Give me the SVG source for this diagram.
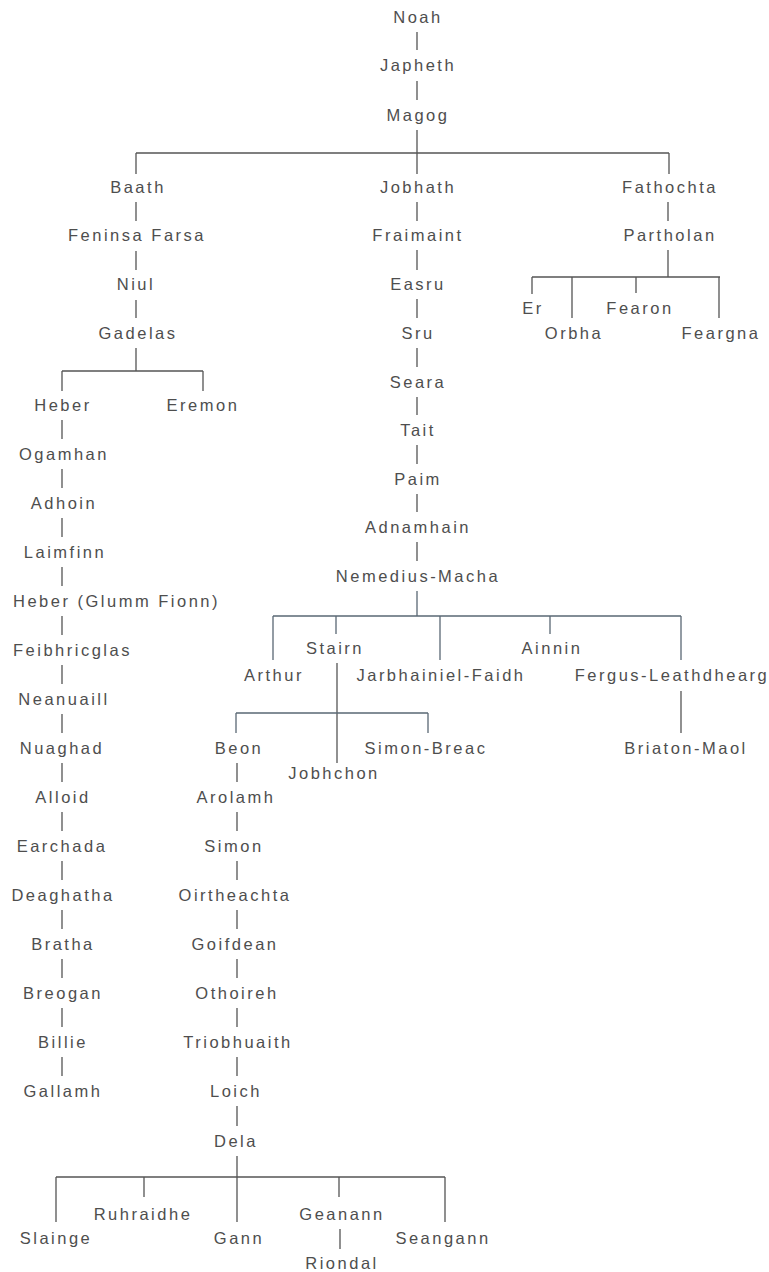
<svg xmlns="http://www.w3.org/2000/svg" width="769" height="1272" viewBox="0 0 769 1272">
<style>
.t{font-family:"Liberation Sans",Arial,sans-serif;font-size:16.5px;letter-spacing:2.5px;fill:#4e4e4e;text-anchor:middle;dominant-baseline:central}
.s{text-anchor:start}
.c path{fill:none;stroke:#555;stroke-width:1.3}
.c path.b{stroke:#5a6874}
</style>
<rect width="769" height="1272" fill="#fff"/>
<g class="c" id="connectors">
<path d="M417 32V50M417 81V100M417 130V153M136 153H669M136 153V174M417 153V174M669 153V174"/>
<path d="M136 202V221M136 251V270M136 300V318M136 348V371M62 371H203M62 371V391M203 371V391"/>
<path d="M62 420V439M62 469V488M62 518V537M62 567V586M62 616V635M62 665V684M62 714V733M62 763V782M62 812V831M62 861V880M62 910V929M62 959V978M62 1008V1027M62 1057V1076"/>
<path d="M417 202V221M417 250V270M417 299V318M417 348V367M417 397V415M417 445V464M417 494V512M417 542V561"/>
<path class="b" d="M417 591V616M273 616H681M273 616V660M336 616V634M440 616V660M550 616V634M681 616V660"/>
<path d="M337 663V763"/>
<path class="b" d="M236 713H428M236 713V733M428 713V733"/>
<path d="M681 691V733"/>
<path d="M668 202V221M668 250V277M532 277H720M532 277V294M572 277V318M636 277V293M719 277V318"/>
<path d="M237 763V782M237 812V831M237 861V880M237 910V929M237 959V978M237 1008V1027M237 1057V1076M237 1106V1126"/>
<path d="M237 1156V1177M56 1177H445M56 1177V1222M144 1177V1197M237 1177V1222M339 1177V1197M445 1177V1222M340 1229V1249"/>
</g>
<g id="noah"><text class="t" x="418" y="17">Noah</text></g>
<g id="japheth"><text class="t" x="418" y="65">Japheth</text></g>
<g id="magog"><text class="t" x="418" y="115">Magog</text></g>
<g id="baath"><text class="t" x="138" y="187">Baath</text></g>
<g id="jobhath"><text class="t" x="418" y="187">Jobhath</text></g>
<g id="fathochta"><text class="t" x="670" y="187">Fathochta</text></g>
<g id="feninsa"><text class="t" x="137" y="235">Feninsa Farsa</text></g>
<g id="niul"><text class="t" x="136" y="284">Niul</text></g>
<g id="gadelas"><text class="t" x="138" y="333">Gadelas</text></g>
<g id="heber"><text class="t" x="63" y="405">Heber</text></g>
<g id="eremon"><text class="t" x="203" y="405">Eremon</text></g>
<g id="ogamhan"><text class="t" x="64" y="454">Ogamhan</text></g>
<g id="adhoin"><text class="t" x="64" y="503">Adhoin</text></g>
<g id="laimfinn"><text class="t" x="65" y="552">Laimfinn</text></g>
<g id="heber2"><text class="t s" x="13" y="601">Heber (Glumm Fionn)</text></g>
<g id="feibhricglas"><text class="t s" x="13" y="650">Feibhricglas</text></g>
<g id="neanuaill"><text class="t" x="64" y="699">Neanuaill</text></g>
<g id="nuaghad"><text class="t" x="62" y="748">Nuaghad</text></g>
<g id="alloid"><text class="t" x="63" y="797">Alloid</text></g>
<g id="earchada"><text class="t" x="62" y="846">Earchada</text></g>
<g id="deaghatha"><text class="t" x="63" y="895">Deaghatha</text></g>
<g id="bratha"><text class="t" x="63" y="944">Bratha</text></g>
<g id="breogan"><text class="t" x="63" y="993">Breogan</text></g>
<g id="billie"><text class="t" x="63" y="1042">Billie</text></g>
<g id="gallamh"><text class="t" x="63" y="1091">Gallamh</text></g>
<g id="fraimaint"><text class="t" x="418" y="235">Fraimaint</text></g>
<g id="easru"><text class="t" x="418" y="284">Easru</text></g>
<g id="sru"><text class="t" x="418" y="333">Sru</text></g>
<g id="seara"><text class="t" x="418" y="382">Seara</text></g>
<g id="tait"><text class="t" x="418" y="430">Tait</text></g>
<g id="paim"><text class="t" x="418" y="479">Paim</text></g>
<g id="adnamhain"><text class="t" x="418" y="527">Adnamhain</text></g>
<g id="nemedius"><text class="t" x="418" y="576">Nemedius-Macha</text></g>
<g id="partholan"><text class="t" x="670" y="235">Partholan</text></g>
<g id="er"><text class="t" x="533" y="308">Er</text></g>
<g id="orbha"><text class="t" x="574" y="333">Orbha</text></g>
<g id="fearon"><text class="t" x="640" y="308">Fearon</text></g>
<g id="feargna"><text class="t" x="721" y="333">Feargna</text></g>
<g id="arthur"><text class="t" x="274" y="675">Arthur</text></g>
<g id="stairn"><text class="t" x="335" y="648">Stairn</text></g>
<g id="jarbhainiel"><text class="t" x="441" y="675">Jarbhainiel-Faidh</text></g>
<g id="ainnin"><text class="t" x="552" y="648">Ainnin</text></g>
<g id="fergus"><text class="t" x="672" y="675">Fergus-Leathdhearg</text></g>
<g id="beon"><text class="t" x="239" y="748">Beon</text></g>
<g id="jobhchon"><text class="t" x="334" y="773">Jobhchon</text></g>
<g id="simonbreac"><text class="t" x="426" y="748">Simon-Breac</text></g>
<g id="briaton"><text class="t" x="686" y="748">Briaton-Maol</text></g>
<g id="arolamh"><text class="t" x="236" y="797">Arolamh</text></g>
<g id="simon"><text class="t" x="234" y="846">Simon</text></g>
<g id="oirtheachta"><text class="t" x="235" y="895">Oirtheachta</text></g>
<g id="goifdean"><text class="t" x="235" y="944">Goifdean</text></g>
<g id="othoireh"><text class="t" x="237" y="993">Othoireh</text></g>
<g id="triobhuaith"><text class="t" x="238" y="1042">Triobhuaith</text></g>
<g id="loich"><text class="t" x="236" y="1091">Loich</text></g>
<g id="dela"><text class="t" x="236" y="1141">Dela</text></g>
<g id="slainge"><text class="t" x="56" y="1238">Slainge</text></g>
<g id="ruhraidhe"><text class="t" x="143" y="1214">Ruhraidhe</text></g>
<g id="gann"><text class="t" x="239" y="1238">Gann</text></g>
<g id="geanann"><text class="t" x="342" y="1214">Geanann</text></g>
<g id="seangann"><text class="t" x="443" y="1238">Seangann</text></g>
<g id="riondal"><text class="t" x="342" y="1263">Riondal</text></g>
</svg>
